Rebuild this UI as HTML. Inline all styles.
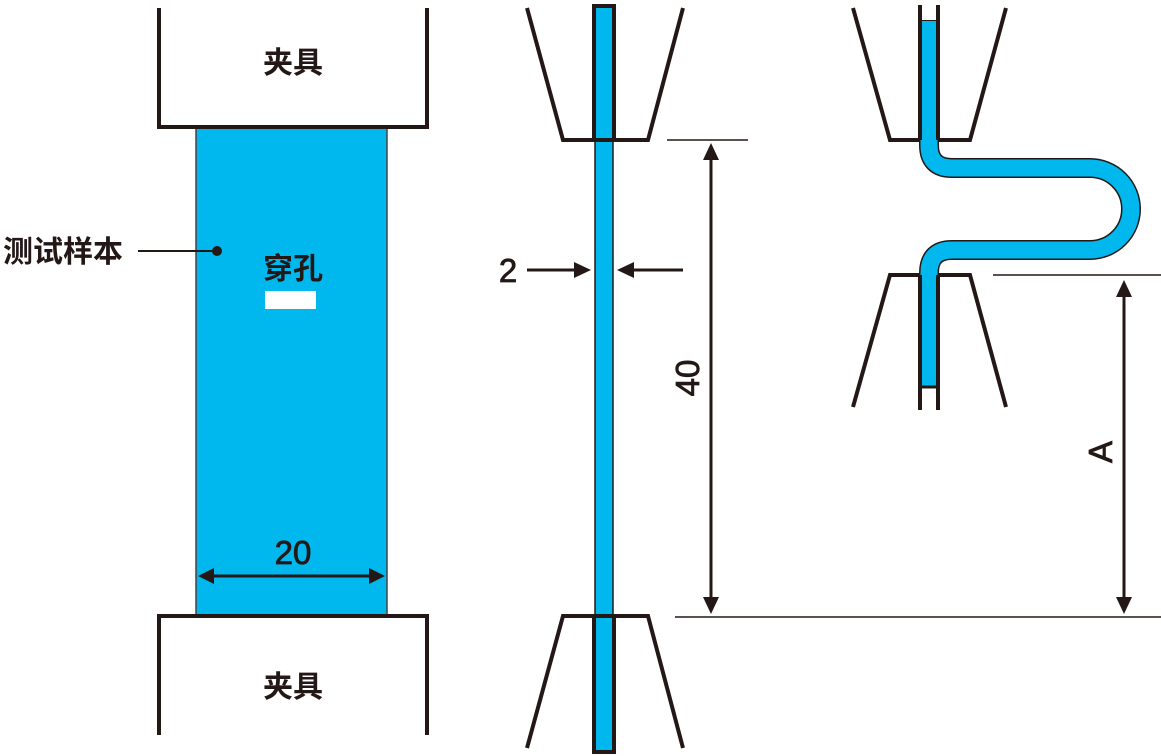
<!DOCTYPE html>
<html><head><meta charset="utf-8"><style>
html,body{margin:0;padding:0;background:#fff;}
svg{display:block}
text{font-family:"Liberation Sans","Noto Sans CJK SC",sans-serif;fill:#231815}
</style></head><body>
<svg width="1161" height="756" viewBox="0 0 1161 756" xmlns="http://www.w3.org/2000/svg">
<g stroke="#231815" fill="none" stroke-linejoin="miter">
<rect x="196" y="127" width="191" height="489" fill="#00b7ee" stroke="#444" stroke-width="1.5"/>
<polyline points="159,8 159,127 427,127 427,8" stroke-width="4"/>
<polyline points="159,735 159,616 427,616 427,735" stroke-width="4"/>
<line x1="138" y1="251" x2="215" y2="251" stroke-width="2"/>
<circle cx="217" cy="251" r="5" fill="#231815" stroke="none"/>
<rect x="265" y="291" width="51" height="18" fill="#fff" stroke="none"/>
<line x1="206" y1="576" x2="376" y2="576" stroke-width="3"/>
<polygon points="198,576 214,568 214,584" fill="#231815" stroke="none"/>
<polygon points="385,576 369,568 369,584" fill="#231815" stroke="none"/>

<rect x="595" y="6" width="18" height="746" fill="#00b7ee" stroke="#231815" stroke-width="1.5"/>
<rect x="594" y="6" width="20" height="134" stroke-width="4"/>
<rect x="594" y="616" width="20" height="136" stroke-width="4"/>
<polyline points="527,8 563,140 595,140" stroke-width="4"/>
<polyline points="683,8 648,140 613,140" stroke-width="4"/>
<polyline points="527,748 563,616 595,616" stroke-width="4"/>
<polyline points="683,748 648,616 613,616" stroke-width="4"/>
<line x1="667" y1="140" x2="748" y2="140" stroke-width="1.5"/>
<line x1="675" y1="617" x2="1161" y2="617" stroke-width="1.5"/>
<line x1="711" y1="155" x2="711" y2="600" stroke-width="3"/>
<polygon points="711,143 703,160 719,160" fill="#231815" stroke="none"/>
<polygon points="711,614 703,597 719,597" fill="#231815" stroke="none"/>
<line x1="527" y1="270" x2="578" y2="270" stroke-width="3"/>
<polygon points="591,270 574,262 574,278" fill="#231815" stroke="none"/>
<line x1="630" y1="270" x2="683" y2="270" stroke-width="3"/>
<polygon points="617,270 634,262 634,278" fill="#231815" stroke="none"/>

<path d="M929,20 V145 Q929,168 952,168 H1090 A41,41 0 0 1 1090,250 H952 Q929,250 929,273 V387" stroke="#231815" stroke-width="20" stroke-linecap="butt"/>
<path d="M929,21 V145 Q929,168 952,168 H1090 A41,41 0 0 1 1090,250 H952 Q929,250 929,273 V386" stroke="#00b7ee" stroke-width="17" stroke-linecap="butt"/>
<line x1="920" y1="5" x2="920" y2="140" stroke-width="4"/>
<line x1="938" y1="5" x2="938" y2="140" stroke-width="4"/>
<line x1="920" y1="275" x2="920" y2="410" stroke-width="4"/>
<line x1="938" y1="275" x2="938" y2="410" stroke-width="4"/>
<line x1="920" y1="387" x2="938" y2="387" stroke-width="3"/>
<polyline points="853,8 890,140 920,140" stroke-width="4"/>
<polyline points="1006,8 970,140 938,140" stroke-width="4"/>
<polyline points="853,407 890,275 920,275" stroke-width="4"/>
<polyline points="1006,407 970,275 938,275" stroke-width="4"/>
<line x1="993" y1="275" x2="1161" y2="275" stroke-width="1.5"/>
<line x1="1124" y1="292" x2="1124" y2="600" stroke-width="3"/>
<polygon points="1124,280 1116,297 1132,297" fill="#231815" stroke="none"/>
<polygon points="1124,614 1116,597 1132,597" fill="#231815" stroke="none"/>
</g>
<g font-size="30" font-weight="bold">
<text x="293" y="73" text-anchor="middle">夹具</text>
<text x="293" y="697" text-anchor="middle">夹具</text>
<text x="293" y="279" text-anchor="middle">穿孔</text>
<text x="3" y="262">测试样本</text>
</g>
<g font-size="33" stroke="#231815" stroke-width="0.8">
<text x="293" y="564" text-anchor="middle">20</text>
<text x="508" y="282" text-anchor="middle">2</text>
<text transform="translate(699,378) rotate(-90)" text-anchor="middle">40</text>
<text transform="translate(1112,452) rotate(-90)" text-anchor="middle">A</text>
</g>
</svg>
</body></html>
